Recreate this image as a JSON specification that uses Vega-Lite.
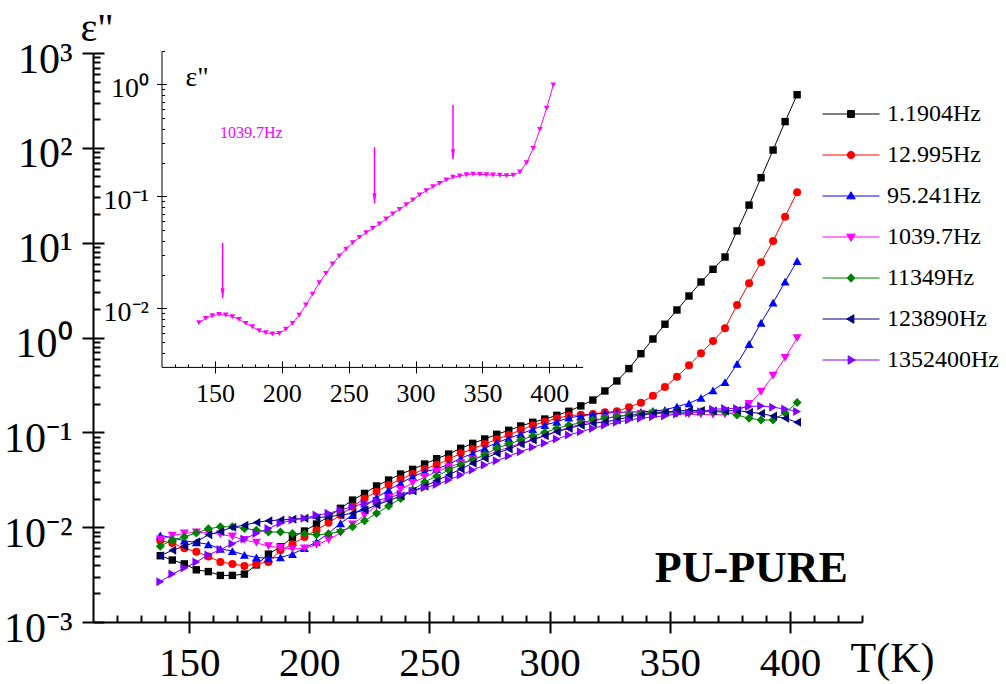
{
  "$schema": "https://vega.github.io/schema/vega-lite/v6.json",
  "width": 769,
  "height": 569,
  "autosize": "none",
  "padding": {"left": 93, "top": 53, "right": 144, "bottom": 62},
  "background": "#ffffff",
  "datasets": {
    "main": [
      {"s":"1.1904Hz","T":138,"e":0.0050},{"s":"1.1904Hz","T":143,"e":0.0045},{"s":"1.1904Hz","T":148,"e":0.0041},{"s":"1.1904Hz","T":153,"e":0.00355},{"s":"1.1904Hz","T":158,"e":0.0034},{"s":"1.1904Hz","T":163,"e":0.0031},{"s":"1.1904Hz","T":168,"e":0.0031},{"s":"1.1904Hz","T":173,"e":0.0032},{"s":"1.1904Hz","T":178,"e":0.0040},{"s":"1.1904Hz","T":183,"e":0.0052},{"s":"1.1904Hz","T":188,"e":0.0062},{"s":"1.1904Hz","T":193,"e":0.0078},{"s":"1.1904Hz","T":198,"e":0.0091},{"s":"1.1904Hz","T":203,"e":0.0108},{"s":"1.1904Hz","T":208,"e":0.0129},{"s":"1.1904Hz","T":213,"e":0.0158},{"s":"1.1904Hz","T":218,"e":0.0193},{"s":"1.1904Hz","T":223,"e":0.0227},{"s":"1.1904Hz","T":228,"e":0.0272},{"s":"1.1904Hz","T":233,"e":0.0314},{"s":"1.1904Hz","T":238,"e":0.0363},{"s":"1.1904Hz","T":243,"e":0.0407},{"s":"1.1904Hz","T":248,"e":0.0463},{"s":"1.1904Hz","T":253,"e":0.0527},{"s":"1.1904Hz","T":258,"e":0.059},{"s":"1.1904Hz","T":263,"e":0.0678},{"s":"1.1904Hz","T":268,"e":0.0765},{"s":"1.1904Hz","T":273,"e":0.0851},{"s":"1.1904Hz","T":278,"e":0.0953},{"s":"1.1904Hz","T":283,"e":0.105},{"s":"1.1904Hz","T":288,"e":0.1166},{"s":"1.1904Hz","T":293,"e":0.1276},{"s":"1.1904Hz","T":298,"e":0.138},{"s":"1.1904Hz","T":303,"e":0.151},{"s":"1.1904Hz","T":308,"e":0.1667},{"s":"1.1904Hz","T":313,"e":0.19},{"s":"1.1904Hz","T":318,"e":0.219},{"s":"1.1904Hz","T":323,"e":0.273},{"s":"1.1904Hz","T":328,"e":0.348},{"s":"1.1904Hz","T":333,"e":0.47},{"s":"1.1904Hz","T":338,"e":0.675},{"s":"1.1904Hz","T":343,"e":0.964},{"s":"1.1904Hz","T":348,"e":1.38},{"s":"1.1904Hz","T":353,"e":1.95},{"s":"1.1904Hz","T":358,"e":2.74},{"s":"1.1904Hz","T":363,"e":3.85},{"s":"1.1904Hz","T":368,"e":5.24},{"s":"1.1904Hz","T":373,"e":7.06},{"s":"1.1904Hz","T":378,"e":13.3},{"s":"1.1904Hz","T":383,"e":24.9},{"s":"1.1904Hz","T":388,"e":48.4},{"s":"1.1904Hz","T":393,"e":94.8},{"s":"1.1904Hz","T":398,"e":189},{"s":"1.1904Hz","T":403,"e":363},
      {"s":"12.995Hz","T":138,"e":0.0072},{"s":"12.995Hz","T":143,"e":0.0068},{"s":"12.995Hz","T":148,"e":0.0060},{"s":"12.995Hz","T":153,"e":0.0055},{"s":"12.995Hz","T":158,"e":0.0049},{"s":"12.995Hz","T":163,"e":0.0043},{"s":"12.995Hz","T":168,"e":0.0041},{"s":"12.995Hz","T":173,"e":0.0039},{"s":"12.995Hz","T":178,"e":0.0041},{"s":"12.995Hz","T":183,"e":0.0043},{"s":"12.995Hz","T":188,"e":0.0057},{"s":"12.995Hz","T":193,"e":0.0066},{"s":"12.995Hz","T":198,"e":0.0079},{"s":"12.995Hz","T":203,"e":0.0093},{"s":"12.995Hz","T":208,"e":0.0111},{"s":"12.995Hz","T":213,"e":0.0134},{"s":"12.995Hz","T":218,"e":0.0164},{"s":"12.995Hz","T":223,"e":0.0201},{"s":"12.995Hz","T":228,"e":0.0237},{"s":"12.995Hz","T":233,"e":0.0279},{"s":"12.995Hz","T":238,"e":0.032},{"s":"12.995Hz","T":243,"e":0.0363},{"s":"12.995Hz","T":248,"e":0.041},{"s":"12.995Hz","T":253,"e":0.0455},{"s":"12.995Hz","T":258,"e":0.052},{"s":"12.995Hz","T":263,"e":0.060},{"s":"12.995Hz","T":268,"e":0.0667},{"s":"12.995Hz","T":273,"e":0.0753},{"s":"12.995Hz","T":278,"e":0.0844},{"s":"12.995Hz","T":283,"e":0.0937},{"s":"12.995Hz","T":288,"e":0.1057},{"s":"12.995Hz","T":293,"e":0.1186},{"s":"12.995Hz","T":298,"e":0.129},{"s":"12.995Hz","T":303,"e":0.1406},{"s":"12.995Hz","T":308,"e":0.150},{"s":"12.995Hz","T":313,"e":0.153},{"s":"12.995Hz","T":318,"e":0.156},{"s":"12.995Hz","T":323,"e":0.1626},{"s":"12.995Hz","T":328,"e":0.1667},{"s":"12.995Hz","T":333,"e":0.184},{"s":"12.995Hz","T":338,"e":0.2056},{"s":"12.995Hz","T":343,"e":0.243},{"s":"12.995Hz","T":348,"e":0.30},{"s":"12.995Hz","T":353,"e":0.386},{"s":"12.995Hz","T":358,"e":0.509},{"s":"12.995Hz","T":363,"e":0.681},{"s":"12.995Hz","T":368,"e":0.918},{"s":"12.995Hz","T":373,"e":1.25},{"s":"12.995Hz","T":378,"e":2.2},{"s":"12.995Hz","T":383,"e":3.73},{"s":"12.995Hz","T":388,"e":6.21},{"s":"12.995Hz","T":393,"e":10.4},{"s":"12.995Hz","T":398,"e":18.8},{"s":"12.995Hz","T":403,"e":34.0},
      {"s":"95.241Hz","T":138,"e":0.0082},{"s":"95.241Hz","T":143,"e":0.0077},{"s":"95.241Hz","T":148,"e":0.0072},{"s":"95.241Hz","T":153,"e":0.0069},{"s":"95.241Hz","T":158,"e":0.0066},{"s":"95.241Hz","T":163,"e":0.0059},{"s":"95.241Hz","T":168,"e":0.0056},{"s":"95.241Hz","T":173,"e":0.0051},{"s":"95.241Hz","T":178,"e":0.0048},{"s":"95.241Hz","T":183,"e":0.0047},{"s":"95.241Hz","T":188,"e":0.0048},{"s":"95.241Hz","T":193,"e":0.0052},{"s":"95.241Hz","T":198,"e":0.0060},{"s":"95.241Hz","T":203,"e":0.0070},{"s":"95.241Hz","T":208,"e":0.0086},{"s":"95.241Hz","T":213,"e":0.0110},{"s":"95.241Hz","T":218,"e":0.0134},{"s":"95.241Hz","T":223,"e":0.0164},{"s":"95.241Hz","T":228,"e":0.0205},{"s":"95.241Hz","T":233,"e":0.0246},{"s":"95.241Hz","T":238,"e":0.029},{"s":"95.241Hz","T":243,"e":0.034},{"s":"95.241Hz","T":248,"e":0.0384},{"s":"95.241Hz","T":253,"e":0.041},{"s":"95.241Hz","T":258,"e":0.046},{"s":"95.241Hz","T":263,"e":0.0532},{"s":"95.241Hz","T":268,"e":0.060},{"s":"95.241Hz","T":273,"e":0.0678},{"s":"95.241Hz","T":278,"e":0.0778},{"s":"95.241Hz","T":283,"e":0.0865},{"s":"95.241Hz","T":288,"e":0.096},{"s":"95.241Hz","T":293,"e":0.1076},{"s":"95.241Hz","T":298,"e":0.1194},{"s":"95.241Hz","T":303,"e":0.129},{"s":"95.241Hz","T":308,"e":0.1426},{"s":"95.241Hz","T":313,"e":0.1485},{"s":"95.241Hz","T":318,"e":0.155},{"s":"95.241Hz","T":323,"e":0.159},{"s":"95.241Hz","T":328,"e":0.162},{"s":"95.241Hz","T":333,"e":0.164},{"s":"95.241Hz","T":338,"e":0.164},{"s":"95.241Hz","T":343,"e":0.168},{"s":"95.241Hz","T":348,"e":0.172},{"s":"95.241Hz","T":353,"e":0.187},{"s":"95.241Hz","T":358,"e":0.202},{"s":"95.241Hz","T":363,"e":0.231},{"s":"95.241Hz","T":368,"e":0.277},{"s":"95.241Hz","T":373,"e":0.338},{"s":"95.241Hz","T":378,"e":0.526},{"s":"95.241Hz","T":383,"e":0.854},{"s":"95.241Hz","T":388,"e":1.43},{"s":"95.241Hz","T":393,"e":2.33},{"s":"95.241Hz","T":398,"e":3.88},{"s":"95.241Hz","T":403,"e":6.41},
      {"s":"1039.7Hz","T":138,"e":0.00743},{"s":"1039.7Hz","T":143,"e":0.00814},{"s":"1039.7Hz","T":148,"e":0.00859},{"s":"1039.7Hz","T":153,"e":0.00883},{"s":"1039.7Hz","T":158,"e":0.00871},{"s":"1039.7Hz","T":163,"e":0.00841},{"s":"1039.7Hz","T":168,"e":0.00797},{"s":"1039.7Hz","T":173,"e":0.00734},{"s":"1039.7Hz","T":178,"e":0.00685},{"s":"1039.7Hz","T":183,"e":0.0063},{"s":"1039.7Hz","T":188,"e":0.00606},{"s":"1039.7Hz","T":193,"e":0.0059},{"s":"1039.7Hz","T":198,"e":0.00597},{"s":"1039.7Hz","T":203,"e":0.0065},{"s":"1039.7Hz","T":208,"e":0.00734},{"s":"1039.7Hz","T":213,"e":0.0087},{"s":"1039.7Hz","T":218,"e":0.0107},{"s":"1039.7Hz","T":223,"e":0.0134},{"s":"1039.7Hz","T":228,"e":0.0169},{"s":"1039.7Hz","T":233,"e":0.0205},{"s":"1039.7Hz","T":238,"e":0.0249},{"s":"1039.7Hz","T":243,"e":0.0293},{"s":"1039.7Hz","T":248,"e":0.0338},{"s":"1039.7Hz","T":253,"e":0.0385},{"s":"1039.7Hz","T":258,"e":0.043},{"s":"1039.7Hz","T":263,"e":0.0473},{"s":"1039.7Hz","T":268,"e":0.0517},{"s":"1039.7Hz","T":273,"e":0.0566},{"s":"1039.7Hz","T":278,"e":0.0627},{"s":"1039.7Hz","T":283,"e":0.0695},{"s":"1039.7Hz","T":288,"e":0.0765},{"s":"1039.7Hz","T":293,"e":0.0841},{"s":"1039.7Hz","T":298,"e":0.0927},{"s":"1039.7Hz","T":303,"e":0.103},{"s":"1039.7Hz","T":308,"e":0.112},{"s":"1039.7Hz","T":313,"e":0.122},{"s":"1039.7Hz","T":318,"e":0.1306},{"s":"1039.7Hz","T":323,"e":0.14},{"s":"1039.7Hz","T":328,"e":0.148},{"s":"1039.7Hz","T":333,"e":0.152},{"s":"1039.7Hz","T":338,"e":0.156},{"s":"1039.7Hz","T":343,"e":0.158},{"s":"1039.7Hz","T":348,"e":0.157},{"s":"1039.7Hz","T":353,"e":0.156},{"s":"1039.7Hz","T":358,"e":0.155},{"s":"1039.7Hz","T":363,"e":0.154},{"s":"1039.7Hz","T":368,"e":0.153},{"s":"1039.7Hz","T":373,"e":0.154},{"s":"1039.7Hz","T":378,"e":0.165},{"s":"1039.7Hz","T":383,"e":0.1995},{"s":"1039.7Hz","T":388,"e":0.268},{"s":"1039.7Hz","T":393,"e":0.396},{"s":"1039.7Hz","T":398,"e":0.611},{"s":"1039.7Hz","T":403,"e":0.986},
      {"s":"11349Hz","T":138,"e":0.0063},{"s":"11349Hz","T":143,"e":0.0073},{"s":"11349Hz","T":148,"e":0.0079},{"s":"11349Hz","T":153,"e":0.0087},{"s":"11349Hz","T":158,"e":0.0096},{"s":"11349Hz","T":163,"e":0.0101},{"s":"11349Hz","T":168,"e":0.0101},{"s":"11349Hz","T":173,"e":0.0097},{"s":"11349Hz","T":178,"e":0.0093},{"s":"11349Hz","T":183,"e":0.0089},{"s":"11349Hz","T":188,"e":0.0089},{"s":"11349Hz","T":193,"e":0.0086},{"s":"11349Hz","T":198,"e":0.0085},{"s":"11349Hz","T":203,"e":0.0083},{"s":"11349Hz","T":208,"e":0.0085},{"s":"11349Hz","T":213,"e":0.0090},{"s":"11349Hz","T":218,"e":0.0101},{"s":"11349Hz","T":223,"e":0.0117},{"s":"11349Hz","T":228,"e":0.0140},{"s":"11349Hz","T":233,"e":0.0167},{"s":"11349Hz","T":238,"e":0.0201},{"s":"11349Hz","T":243,"e":0.0246},{"s":"11349Hz","T":248,"e":0.0300},{"s":"11349Hz","T":253,"e":0.0345},{"s":"11349Hz","T":258,"e":0.0400},{"s":"11349Hz","T":263,"e":0.0455},{"s":"11349Hz","T":268,"e":0.0515},{"s":"11349Hz","T":273,"e":0.0580},{"s":"11349Hz","T":278,"e":0.0678},{"s":"11349Hz","T":283,"e":0.0753},{"s":"11349Hz","T":288,"e":0.083},{"s":"11349Hz","T":293,"e":0.0915},{"s":"11349Hz","T":298,"e":0.0993},{"s":"11349Hz","T":303,"e":0.110},{"s":"11349Hz","T":308,"e":0.119},{"s":"11349Hz","T":313,"e":0.126},{"s":"11349Hz","T":318,"e":0.135},{"s":"11349Hz","T":323,"e":0.1406},{"s":"11349Hz","T":328,"e":0.146},{"s":"11349Hz","T":333,"e":0.152},{"s":"11349Hz","T":338,"e":0.158},{"s":"11349Hz","T":343,"e":0.163},{"s":"11349Hz","T":348,"e":0.163},{"s":"11349Hz","T":353,"e":0.163},{"s":"11349Hz","T":358,"e":0.163},{"s":"11349Hz","T":363,"e":0.165},{"s":"11349Hz","T":368,"e":0.165},{"s":"11349Hz","T":373,"e":0.163},{"s":"11349Hz","T":378,"e":0.152},{"s":"11349Hz","T":383,"e":0.1406},{"s":"11349Hz","T":388,"e":0.135},{"s":"11349Hz","T":393,"e":0.135},{"s":"11349Hz","T":398,"e":0.160},{"s":"11349Hz","T":403,"e":0.206},
      {"s":"123890Hz","T":138,"e":0.0050},{"s":"123890Hz","T":143,"e":0.0057},{"s":"123890Hz","T":148,"e":0.0063},{"s":"123890Hz","T":153,"e":0.0070},{"s":"123890Hz","T":158,"e":0.0083},{"s":"123890Hz","T":163,"e":0.0090},{"s":"123890Hz","T":168,"e":0.0100},{"s":"123890Hz","T":173,"e":0.0105},{"s":"123890Hz","T":178,"e":0.0112},{"s":"123890Hz","T":183,"e":0.0117},{"s":"123890Hz","T":188,"e":0.0119},{"s":"123890Hz","T":193,"e":0.0121},{"s":"123890Hz","T":198,"e":0.0124},{"s":"123890Hz","T":203,"e":0.0126},{"s":"123890Hz","T":208,"e":0.0129},{"s":"123890Hz","T":213,"e":0.0134},{"s":"123890Hz","T":218,"e":0.0140},{"s":"123890Hz","T":223,"e":0.0152},{"s":"123890Hz","T":228,"e":0.0171},{"s":"123890Hz","T":233,"e":0.0190},{"s":"123890Hz","T":238,"e":0.0213},{"s":"123890Hz","T":243,"e":0.0240},{"s":"123890Hz","T":248,"e":0.0270},{"s":"123890Hz","T":253,"e":0.0310},{"s":"123890Hz","T":258,"e":0.0355},{"s":"123890Hz","T":263,"e":0.0410},{"s":"123890Hz","T":268,"e":0.0471},{"s":"123890Hz","T":273,"e":0.0532},{"s":"123890Hz","T":278,"e":0.060},{"s":"123890Hz","T":283,"e":0.0667},{"s":"123890Hz","T":288,"e":0.0753},{"s":"123890Hz","T":293,"e":0.083},{"s":"123890Hz","T":298,"e":0.092},{"s":"123890Hz","T":303,"e":0.1016},{"s":"123890Hz","T":308,"e":0.110},{"s":"123890Hz","T":313,"e":0.119},{"s":"123890Hz","T":318,"e":0.1245},{"s":"123890Hz","T":323,"e":0.129},{"s":"123890Hz","T":328,"e":0.135},{"s":"123890Hz","T":333,"e":0.146},{"s":"123890Hz","T":338,"e":0.152},{"s":"123890Hz","T":343,"e":0.158},{"s":"123890Hz","T":348,"e":0.163},{"s":"123890Hz","T":353,"e":0.168},{"s":"123890Hz","T":358,"e":0.170},{"s":"123890Hz","T":363,"e":0.170},{"s":"123890Hz","T":368,"e":0.168},{"s":"123890Hz","T":373,"e":0.168},{"s":"123890Hz","T":378,"e":0.170},{"s":"123890Hz","T":383,"e":0.163},{"s":"123890Hz","T":388,"e":0.158},{"s":"123890Hz","T":393,"e":0.1485},{"s":"123890Hz","T":398,"e":0.1406},{"s":"123890Hz","T":403,"e":0.1276},
      {"s":"1352400Hz","T":138,"e":0.00266},{"s":"1352400Hz","T":143,"e":0.0032},{"s":"1352400Hz","T":148,"e":0.0037},{"s":"1352400Hz","T":153,"e":0.0043},{"s":"1352400Hz","T":158,"e":0.0051},{"s":"1352400Hz","T":163,"e":0.0058},{"s":"1352400Hz","T":168,"e":0.0067},{"s":"1352400Hz","T":173,"e":0.0075},{"s":"1352400Hz","T":178,"e":0.0086},{"s":"1352400Hz","T":183,"e":0.0097},{"s":"1352400Hz","T":188,"e":0.0110},{"s":"1352400Hz","T":193,"e":0.0119},{"s":"1352400Hz","T":198,"e":0.0124},{"s":"1352400Hz","T":203,"e":0.0134},{"s":"1352400Hz","T":208,"e":0.0140},{"s":"1352400Hz","T":213,"e":0.0152},{"s":"1352400Hz","T":218,"e":0.0165},{"s":"1352400Hz","T":223,"e":0.0178},{"s":"1352400Hz","T":228,"e":0.0190},{"s":"1352400Hz","T":233,"e":0.0205},{"s":"1352400Hz","T":238,"e":0.0222},{"s":"1352400Hz","T":243,"e":0.0240},{"s":"1352400Hz","T":248,"e":0.0260},{"s":"1352400Hz","T":253,"e":0.0282},{"s":"1352400Hz","T":258,"e":0.0314},{"s":"1352400Hz","T":263,"e":0.0355},{"s":"1352400Hz","T":268,"e":0.040},{"s":"1352400Hz","T":273,"e":0.0452},{"s":"1352400Hz","T":278,"e":0.0501},{"s":"1352400Hz","T":283,"e":0.0562},{"s":"1352400Hz","T":288,"e":0.0625},{"s":"1352400Hz","T":293,"e":0.0695},{"s":"1352400Hz","T":298,"e":0.0765},{"s":"1352400Hz","T":303,"e":0.0851},{"s":"1352400Hz","T":308,"e":0.0937},{"s":"1352400Hz","T":313,"e":0.1016},{"s":"1352400Hz","T":318,"e":0.110},{"s":"1352400Hz","T":323,"e":0.119},{"s":"1352400Hz","T":328,"e":0.1276},{"s":"1352400Hz","T":333,"e":0.135},{"s":"1352400Hz","T":338,"e":0.1406},{"s":"1352400Hz","T":343,"e":0.146},{"s":"1352400Hz","T":348,"e":0.149},{"s":"1352400Hz","T":353,"e":0.156},{"s":"1352400Hz","T":358,"e":0.161},{"s":"1352400Hz","T":363,"e":0.165},{"s":"1352400Hz","T":368,"e":0.175},{"s":"1352400Hz","T":373,"e":0.178},{"s":"1352400Hz","T":378,"e":0.178},{"s":"1352400Hz","T":383,"e":0.187},{"s":"1352400Hz","T":388,"e":0.19},{"s":"1352400Hz","T":393,"e":0.184},{"s":"1352400Hz","T":398,"e":0.176},{"s":"1352400Hz","T":403,"e":0.166}
    ]
  },
  "data": {"name": "main"},
  "layer": [
    {
      "layer": [
        {
          "transform": [{"filter": "datum.s === '1.1904Hz'"}],
          "mark": {"type": "line", "color": "#000000", "strokeWidth": 1, "point": {"filled": true, "shape": "square", "size": 55, "color": "#000000"}},
          "encoding": {
            "x": {"field": "T", "type": "quantitative", "scale": {"type": "linear", "domain": [110, 430], "nice": false, "zero": false},
              "axis": {"orient": "bottom", "values": [150, 200, 250, 300, 350, 400], "format": "d", "tickSize": 11, "tickWidth": 2, "domainWidth": 2, "labelFontSize": 41, "labelBaseline": "alphabetic", "labelPadding": 42, "title": "T(K)", "titleFontSize": 42, "titleAngle": 0, "titleAlign": "left", "titleBaseline": "alphabetic", "titleX": 757, "titleY": 49}},
            "y": {"field": "e", "type": "quantitative", "scale": {"type": "log", "domain": [0.001, 1000], "nice": false},
              "axis": {"orient": "left", "values": [0.001, 0.01, 0.1, 1, 10, 100, 1000], "tickSize": 11, "tickWidth": 2, "domainWidth": 2, "labelFontSize": 42, "labelAlign": "right", "labelBaseline": "alphabetic", "labelOffset": 19, "labelPadding": 10,
                "labelExpr": "'10' + (datum.value < 1 ? '⁻' : '') + ['⁰','¹','²','³'][round(abs(log(datum.value) / LN10))]",
                "title": "ε\"", "titleFontSize": 40, "titleAngle": 0, "titleAlign": "left", "titleBaseline": "alphabetic", "titleX": -13, "titleY": -13}}
          }
        },
        {
          "transform": [{"filter": "datum.s === '12.995Hz'"}],
          "mark": {"type": "line", "color": "#FF0000", "strokeWidth": 1, "point": {"filled": true, "shape": "circle", "size": 64, "color": "#FF0000"}},
          "encoding": {
            "x": {"field": "T", "type": "quantitative", "scale": {"type": "linear", "domain": [110, 430], "nice": false, "zero": false},
              "axis": {"orient": "bottom", "values": [150, 200, 250, 300, 350, 400], "tickSize": -11, "tickWidth": 2, "labels": false, "domain": false, "title": null}},
            "y": {"field": "e", "type": "quantitative", "scale": {"type": "log", "domain": [0.001, 1000], "nice": false},
              "axis": {"orient": "left", "values": [0.001, 0.01, 0.1, 1, 10, 100, 1000], "tickSize": -11, "tickWidth": 2, "labels": false, "domain": false, "title": null}}
          }
        },
        {
          "transform": [{"filter": "datum.s === '95.241Hz'"}],
          "mark": {"type": "line", "color": "#0000FF", "strokeWidth": 1, "point": {"filled": true, "shape": "triangle-up", "size": 81, "color": "#0000FF"}},
          "encoding": {
            "x": {"field": "T", "type": "quantitative", "scale": {"type": "linear", "domain": [110, 430], "nice": false, "zero": false},
              "axis": {"orient": "bottom", "values": [120, 130, 140, 160, 170, 180, 190, 210, 220, 230, 240, 260, 270, 280, 290, 310, 320, 330, 340, 360, 370, 380, 390, 410, 420, 430], "tickSize": -7, "tickWidth": 2, "labels": false, "domain": false, "title": null}},
            "y": {"field": "e", "type": "quantitative", "scale": {"type": "log", "domain": [0.001, 1000], "nice": false},
              "axis": {"orient": "left", "values": [0.002, 0.003, 0.004, 0.005, 0.006, 0.007, 0.008, 0.009, 0.02, 0.03, 0.04, 0.05, 0.06, 0.07, 0.08, 0.09, 0.2, 0.3, 0.4, 0.5, 0.6, 0.7, 0.8, 0.9, 2, 3, 4, 5, 6, 7, 8, 9, 20, 30, 40, 50, 60, 70, 80, 90, 200, 300, 400, 500, 600, 700, 800, 900], "tickSize": -7, "tickWidth": 2, "labels": false, "domain": false, "title": null}}
          }
        },
        {
          "transform": [{"filter": "datum.s === '1039.7Hz'"}],
          "mark": {"type": "line", "color": "#FF00FF", "strokeWidth": 1, "point": {"filled": true, "shape": "triangle-down", "size": 81, "color": "#FF00FF"}},
          "encoding": {
            "x": {"field": "T", "type": "quantitative", "scale": {"type": "linear", "domain": [110, 430], "nice": false, "zero": false}, "axis": null},
            "y": {"field": "e", "type": "quantitative", "scale": {"type": "log", "domain": [0.001, 1000], "nice": false}, "axis": null}
          }
        },
        {
          "transform": [{"filter": "datum.s === '11349Hz'"}],
          "mark": {"type": "line", "color": "#008000", "strokeWidth": 1, "point": {"filled": true, "shape": "diamond", "size": 81, "color": "#008000"}},
          "encoding": {
            "x": {"field": "T", "type": "quantitative", "scale": {"type": "linear", "domain": [110, 430], "nice": false, "zero": false}, "axis": null},
            "y": {"field": "e", "type": "quantitative", "scale": {"type": "log", "domain": [0.001, 1000], "nice": false}, "axis": null}
          }
        },
        {
          "transform": [{"filter": "datum.s === '123890Hz'"}],
          "mark": {"type": "line", "color": "#000080", "strokeWidth": 1, "point": {"filled": true, "shape": "triangle-left", "size": 81, "color": "#000080"}},
          "encoding": {
            "x": {"field": "T", "type": "quantitative", "scale": {"type": "linear", "domain": [110, 430], "nice": false, "zero": false}, "axis": null},
            "y": {"field": "e", "type": "quantitative", "scale": {"type": "log", "domain": [0.001, 1000], "nice": false}, "axis": null}
          }
        },
        {
          "transform": [{"filter": "datum.s === '1352400Hz'"}],
          "mark": {"type": "line", "color": "#8000FF", "strokeWidth": 1, "point": {"filled": true, "shape": "triangle-right", "size": 81, "color": "#8000FF"}},
          "encoding": {
            "x": {"field": "T", "type": "quantitative", "scale": {"type": "linear", "domain": [110, 430], "nice": false, "zero": false}, "axis": null},
            "y": {"field": "e", "type": "quantitative", "scale": {"type": "log", "domain": [0.001, 1000], "nice": false}, "axis": null}
          }
        },
        {
          "data": {"values": [{}]},
          "mark": {"type": "text", "text": "PU-PURE", "font": "Liberation Serif", "fontSize": 44, "fontWeight": "bold", "align": "left", "baseline": "alphabetic", "color": "#000000"},
          "encoding": {
            "x": {"datum": 343.8, "type": "quantitative", "scale": {"type": "linear", "domain": [110, 430], "nice": false, "zero": false}, "axis": null},
            "y": {"datum": 0.00264, "type": "quantitative", "scale": {"type": "log", "domain": [0.001, 1000], "nice": false}, "axis": null}
          }
        },
        {
          "data": {"values": [{"s": "1.1904Hz"}, {"s": "12.995Hz"}, {"s": "95.241Hz"}, {"s": "1039.7Hz"}, {"s": "11349Hz"}, {"s": "123890Hz"}, {"s": "1352400Hz"}]},
          "mark": {"type": "point", "filled": true, "clip": true, "strokeWidth": 1, "opacity": 1},
          "encoding": {
            "x": {"datum": 200, "type": "quantitative", "scale": {"type": "linear", "domain": [110, 430], "nice": false, "zero": false}, "axis": null},
            "y": {"datum": 1e-9, "type": "quantitative", "scale": {"type": "log", "domain": [0.001, 1000], "nice": false}, "axis": null},
            "fill": {"field": "s", "type": "nominal",
              "scale": {"domain": ["1.1904Hz", "12.995Hz", "95.241Hz", "1039.7Hz", "11349Hz", "123890Hz", "1352400Hz"], "range": ["#000000", "#FF0000", "#0000FF", "#FF00FF", "#008000", "#000080", "#8000FF"]},
              "legend": {"title": null, "orient": "none", "legendX": 729, "legendY": 32, "symbolSize": 3249, "symbolStrokeWidth": 1, "symbolOpacity": 1, "labelFont": "Liberation Serif", "labelFontSize": 24, "labelColor": "#000000", "labelOffset": 7, "rowPadding": -27, "padding": 0}},
            "stroke": {"field": "s", "type": "nominal",
              "scale": {"domain": ["1.1904Hz", "12.995Hz", "95.241Hz", "1039.7Hz", "11349Hz", "123890Hz", "1352400Hz"], "range": ["#000000", "#FF0000", "#0000FF", "#FF00FF", "#008000", "#000080", "#8000FF"]},
              "legend": {"title": null, "orient": "none", "legendX": 729, "legendY": 32, "symbolSize": 3249, "symbolStrokeWidth": 1, "symbolOpacity": 1, "labelFont": "Liberation Serif", "labelFontSize": 24, "labelColor": "#000000", "labelOffset": 7, "rowPadding": -27, "padding": 0}},
            "shape": {"field": "s", "type": "nominal",
              "scale": {"domain": ["1.1904Hz", "12.995Hz", "95.241Hz", "1039.7Hz", "11349Hz", "123890Hz", "1352400Hz"],
                "range": [
                  "M-1,0L1,0M-0.12,-0.12L0.12,-0.12L0.12,0.12L-0.12,0.12Z",
                  "M-1,0L1,0M-0.13,0A0.13,0.13,0,1,1,0.13,0A0.13,0.13,0,1,1,-0.13,0Z",
                  "M-1,0L1,0M0,-0.15L0.15,0.1L-0.15,0.1Z",
                  "M-1,0L1,0M0,0.15L0.15,-0.1L-0.15,-0.1Z",
                  "M-1,0L1,0M0,-0.15L0.13,0L0,0.15L-0.13,0Z",
                  "M-1,0L1,0M-0.15,0L0.1,-0.15L0.1,0.15Z",
                  "M-1,0L1,0M0.15,0L-0.1,-0.15L-0.1,0.15Z"
                ]},
              "legend": {"title": null, "orient": "none", "legendX": 729, "legendY": 32, "symbolSize": 3249, "symbolStrokeWidth": 1, "symbolOpacity": 1, "labelFont": "Liberation Serif", "labelFontSize": 24, "labelColor": "#000000", "labelOffset": 7, "rowPadding": -27, "padding": 0}}
          }
        }
      ],
      "resolve": {"axis": {"x": "independent", "y": "independent"}}
    },
    {
      "layer": [
        {
          "transform": [{"filter": "datum.s === '1039.7Hz'"}],
          "mark": {"type": "line", "color": "#FF00FF", "strokeWidth": 1, "point": {"filled": true, "shape": "triangle-down", "size": 32, "color": "#FF00FF"}},
          "encoding": {
            "x": {"field": "T", "type": "quantitative", "scale": {"type": "linear", "domain": [110, 425], "range": [68.5, 489.7], "nice": false, "zero": false},
              "axis": {"orient": "bottom", "offset": -255.1, "values": [150, 200, 250, 300, 350, 400], "format": "d", "tickSize": 6, "tickWidth": 1, "domainWidth": 1, "labelFontSize": 26, "labelBaseline": "alphabetic", "labelPadding": 29, "title": null}},
            "y": {"field": "e", "type": "quantitative", "scale": {"type": "log", "domain": [0.003, 2], "range": [313.9, -2.4], "nice": false},
              "axis": {"orient": "left", "offset": -68.5, "values": [0.01, 0.1, 1], "tickSize": 5, "tickWidth": 1, "domainWidth": 1, "labelFontSize": 28, "labelAlign": "right", "labelBaseline": "alphabetic", "labelOffset": 12, "labelPadding": 8,
                "labelExpr": "'10' + (datum.value < 1 ? '⁻' : '') + ['⁰','¹','²','³'][round(abs(log(datum.value) / LN10))]",
                "title": "ε\"", "titleFontSize": 28, "titleAngle": 0, "titleAlign": "left", "titleBaseline": "alphabetic", "titleX": 23.5, "titleY": 32}}
          }
        },
        {
          "data": {"values": [{"T": 155.7, "top": 0.0385, "tip": 0.01228}, {"T": 269.3, "top": 0.274, "tip": 0.0866}, {"T": 328, "top": 0.653, "tip": 0.214}]},
          "mark": {"type": "rule", "color": "#FF00FF", "strokeWidth": 1.5},
          "encoding": {
            "x": {"field": "T", "type": "quantitative", "scale": {"type": "linear", "domain": [110, 425], "range": [68.5, 489.7], "nice": false, "zero": false},
              "axis": {"orient": "bottom", "offset": -255.1, "values": [150, 200, 250, 300, 350, 400], "tickSize": -6, "tickWidth": 1, "labels": false, "domain": false, "title": null}},
            "y": {"field": "top", "type": "quantitative", "scale": {"type": "log", "domain": [0.003, 2], "range": [313.9, -2.4], "nice": false},
              "axis": {"orient": "left", "offset": -68.5, "values": [0.01, 0.1, 1], "tickSize": -5, "tickWidth": 1, "labels": false, "domain": false, "title": null}},
            "y2": {"field": "tip"}
          }
        },
        {
          "data": {"values": [{"T": 155.7, "top": 0.0385, "tip": 0.01228}, {"T": 269.3, "top": 0.274, "tip": 0.0866}, {"T": 328, "top": 0.653, "tip": 0.214}]},
          "mark": {"type": "point", "filled": true, "color": "#FF00FF", "opacity": 1, "shape": "M-0.4,-1L0.4,-1L0,1Z", "size": 100, "yOffset": -5},
          "encoding": {
            "x": {"field": "T", "type": "quantitative", "scale": {"type": "linear", "domain": [110, 425], "range": [68.5, 489.7], "nice": false, "zero": false},
              "axis": {"orient": "bottom", "offset": -255.1, "values": [120, 130, 140, 160, 170, 180, 190, 210, 220, 230, 240, 260, 270, 280, 290, 310, 320, 330, 340, 360, 370, 380, 390, 410, 420], "tickSize": -3, "tickWidth": 1, "labels": false, "domain": false, "title": null}},
            "y": {"field": "tip", "type": "quantitative", "scale": {"type": "log", "domain": [0.003, 2], "range": [313.9, -2.4], "nice": false},
              "axis": {"orient": "left", "offset": -68.5, "values": [0.004, 0.005, 0.006, 0.007, 0.008, 0.009, 0.02, 0.03, 0.04, 0.05, 0.06, 0.07, 0.08, 0.09, 0.2, 0.3, 0.4, 0.5, 0.6, 0.7, 0.8, 0.9, 2], "tickSize": -3, "tickWidth": 1, "labels": false, "domain": false, "title": null}}
          }
        },
        {
          "data": {"values": [{}]},
          "mark": {"type": "text", "text": "1039.7Hz", "font": "Liberation Serif", "fontSize": 16, "align": "left", "baseline": "alphabetic", "color": "#FF00FF"},
          "encoding": {
            "x": {"datum": 153.7, "type": "quantitative", "scale": {"type": "linear", "domain": [110, 425], "range": [68.5, 489.7], "nice": false, "zero": false}, "axis": null},
            "y": {"datum": 0.3315, "type": "quantitative", "scale": {"type": "log", "domain": [0.003, 2], "range": [313.9, -2.4], "nice": false}, "axis": null}
          }
        }
      ],
      "resolve": {"axis": {"x": "independent", "y": "independent"}}
    }
  ],
  "resolve": {"scale": {"x": "independent", "y": "independent"}, "axis": {"x": "independent", "y": "independent"}},
  "config": {
    "view": {"stroke": null},
    "font": "Liberation Serif",
    "axis": {"grid": false, "labelFont": "Liberation Serif", "titleFont": "Liberation Serif", "labelColor": "#000000", "titleColor": "#000000", "tickColor": "#000000", "domainColor": "#000000", "labelOverlap": false, "labelFlush": false, "labelBound": false, "titleFontWeight": "normal", "titlePadding": 0},
    "legend": {"labelFont": "Liberation Serif"}
  }
}
